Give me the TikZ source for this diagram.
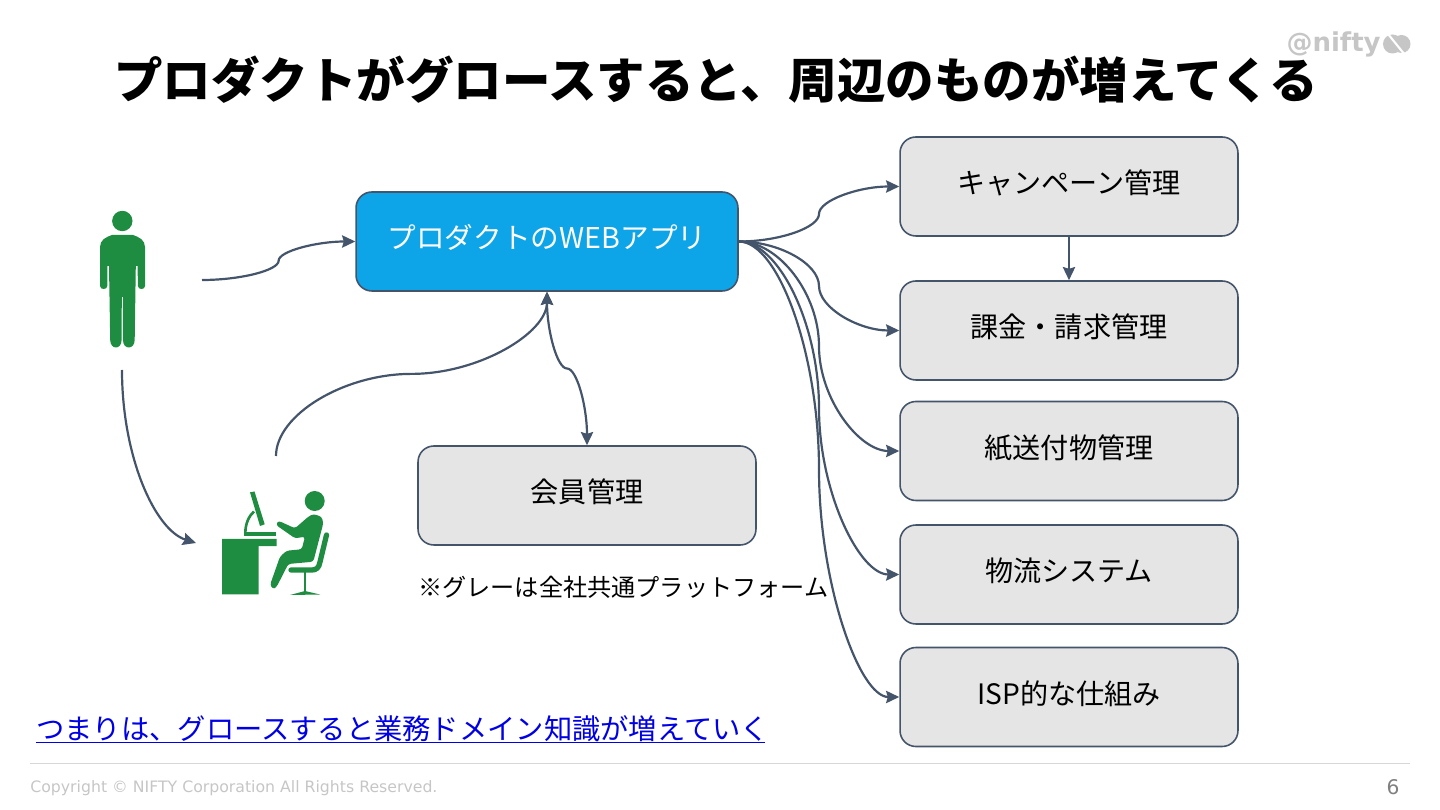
\documentclass[tikz,border=0pt]{standalone}
\usepackage{fontspec}
\setmainfont{Noto Sans CJK JP}
\newfontfamily\latinfont{DejaVu Sans}
\newfontfamily\logofont{DejaVu Sans}
\definecolor{Flowcol}{HTML}{44546A}
\definecolor{Boxcol}{HTML}{E5E5E5}
\definecolor{Webcol}{HTML}{0DA4E8}
\definecolor{Iconcol}{HTML}{1E8C41}
\definecolor{Linkcol}{HTML}{0000E6}
\definecolor{Footcol}{HTML}{C6C6C6}
\usetikzlibrary{calc, arrows.meta}
\tikzset{
    >={Stealth[length=7.5pt,width=7pt,inset=1pt]},
    flowline/.style={Flowcol, line width=1.25pt},
    roundbox/.style={draw=Flowcol, line width=0.9pt, rounded corners=9pt, inner sep=0pt, minimum height=1.98cm,
        font=\fontsize{16}{18}\selectfont, text height=16pt, text depth=8pt},
    grayitem/.style={roundbox, fill=Boxcol, minimum width=6.76cm},
    iconline/.style={Iconcol, line cap=round, line join=round}
}
% curved links, bent half way
\newcommand{\hlink}[3][->]{\draw[flowline,#1] let \p1=(#2), \p2=(#3), \p3=($(#2)!.5!(#3)$), \p4=($(#2)!.25!(#3)$), \p5=($(#2)!.75!(#3)$) in
    (\p1) .. controls (\x4,\y1) and (\x3,\y4) .. (\p3) .. controls (\x3,\y5) and (\x5,\y2) .. (\p2);}
\newcommand{\vlink}[3][->]{\draw[flowline,#1] let \p1=(#2), \p2=(#3), \p3=($(#2)!.5!(#3)$), \p4=($(#2)!.25!(#3)$), \p5=($(#2)!.75!(#3)$) in
    (\p1) .. controls (\x1,\y4) and (\x4,\y3) .. (\p3) .. controls (\x5,\y3) and (\x2,\y5) .. (\p2);}
\begin{document}
\begin{tikzpicture}[x=0.02cm, y=-0.02cm]
    \useasboundingbox (0,0) rectangle (1440,810);

    % Title and logo
    \node[font=\fontsize{27.6}{30}\selectfont\bfseries, inner sep=0pt] (title) at (716,80) {プロダクトがグロースすると、周辺のものが増えてくる};
    \node[Footcol, font=\logofont\fontsize{14.8}{18}\selectfont\bfseries, inner sep=0pt, anchor=east] (logo) at (1381,44) {@nifty};
    \fill[Footcol] (1392.5,44) circle (9.5) (1401.5,44) circle (9);
    \draw[white, line width=1.2pt] (1388,34) -- (1405,55);

    % Boxes
    \node[roundbox, fill=Webcol, text=white, minimum width=7.64cm, font=\fontsize{16.3}{18}\selectfont] (web) at (547,241.5) {プロダクトのWEBアプリ};
    \node[grayitem] (camp) at (1069,186.5) {キャンペーン管理};
    \node[grayitem] (billing) at (1069,330.5) {課金・請求管理};
    \node[grayitem] (paper) at (1069,451) {紙送付物管理};
    \node[grayitem] (logistics) at (1069,574.5) {物流システム};
    \node[grayitem] (isp) at (1069,697) {ISP的な仕組み};
    \node[grayitem] (member) at (587,495.5) {会員管理};
    \node[font=\fontsize{13.75}{16}\selectfont, inner sep=0pt, anchor=west] (note) at (418,587) {※グレーは全社共通プラットフォーム};

    % User icon
    \fill[Iconcol] (122.3,221) circle (10.2);
    \fill[Iconcol] (100,247) .. controls (100,240) and (106,237) .. (112,235) -- (133,235) .. controls (139,237) and (145,240) .. (145,247)
        -- (145,286) .. controls (145,290) and (138,290) .. (138,286) -- (137.5,266) -- (135.8,266) -- (134.7,340)
        .. controls (134.5,350) and (123,350) .. (123,340) -- (122.8,297) -- (121.8,297) -- (121.6,340)
        .. controls (121.6,350) and (110.3,350) .. (110.2,340) -- (109,266) -- (107.5,266) -- (107.3,286)
        .. controls (107.3,290) and (100,290) .. (100,286) -- cycle;
    \coordinate (userright) at (202,280);
    \coordinate (userbelow) at (122,370);

    % Operator icon
    \fill[Iconcol] (222,539) rectangle (276.7,546) (222,539) rectangle (258.7,594.3);
    \fill[Iconcol] (244.3,532) rectangle (275.7,536);
    \fill[Iconcol] (250,492.3) -- (254.5,491.5) -- (264.7,524.3) -- (260,526) -- cycle;
    \draw[Iconcol, line width=1.5pt] (245.3,533) .. controls (245.5,523) and (249,516) .. (254,511.5);
    \fill[Iconcol] (314.7,501) circle (10);
    \fill[Iconcol, rounded corners=1.5pt] (313.3,514) -- (321.7,516.7) -- (323.3,523.3) -- (313.3,561.7) -- (288.3,564) -- (276.7,586.7)
        -- (273.3,589.3) -- (270,585) -- (280,556.7) -- (286.7,550.7) -- (301.7,549.3) -- (305,536.7) -- (295,538.3)
        -- (276,525) -- (278.3,520.7) -- (295,528.3) -- (308.3,516.7) -- cycle;
    \draw[iconline, line width=3pt] (326.5,535) -- (320,562) .. controls (319,568) and (316,570) .. (312,570) -- (291,570);
    \draw[iconline, line width=1.5pt] (305,572) -- (305,592);
    \fill[Iconcol] (290,595) -- (305,591) -- (320,594.5) -- cycle;
    \coordinate (deskleft) at (196,543);
    \coordinate (desktop) at (276,456);

    % Links
    \hlink{userright}{web.west}
    \vlink{desktop}{web.south}
    \vlink[<->]{web.south}{member.north}
    \draw[->, flowline] (userbelow) .. controls (122,457) and (155,530) .. (deskleft);
    \foreach \target in {camp,billing,paper,logistics,isp}
        \hlink{web.east}{\target.west};
    \draw[->, flowline] (camp.south) -- (billing.north);

    % Footer
    \node[Linkcol, font=\fontsize{16.1}{18}\selectfont, inner sep=0pt, anchor=west] (summary) at (36,729) {つまりは、グロースすると業務ドメイン知識が増えていく};
    \draw[Linkcol, line width=0.8pt] (36,742.5) -- (765,742.5);
    \draw[Footcol!70, line width=0.8pt] (30,763.5) -- (1410,763.5);
    \node[Footcol, font=\latinfont\fontsize{8.95}{11}\selectfont, inner sep=0pt, anchor=west] (copyright) at (30,788) {Copyright © NIFTY Corporation All Rights Reserved.};
    \node[gray, font=\latinfont\fontsize{11.5}{13}\selectfont, inner sep=0pt] (pageno) at (1393,787) {6};
\end{tikzpicture}
\end{document}
